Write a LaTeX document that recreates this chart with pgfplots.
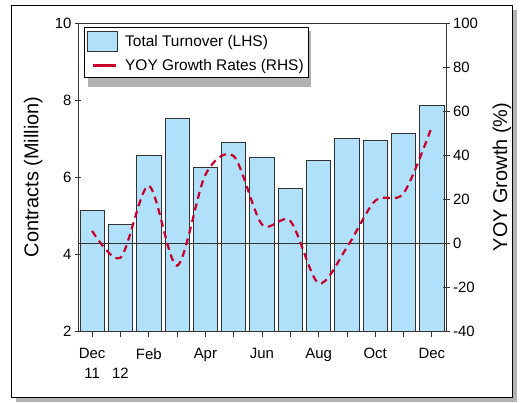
\documentclass[border=0pt]{standalone}
\usepackage{pgfplots}
\pgfplotsset{compat=1.18}
\usepackage{pgfplotstable}
\usepackage{fontspec}
\setmainfont{Liberation Sans}

\definecolor{barblue}{RGB}{176,224,250}
\definecolor{yoyred}{RGB}{200,0,46}

\pgfplotsset{
  barlegend/.style={legend image code/.code={\draw[##1] (0bp,-10bp) rectangle (30bp,10bp);}},
  linelegend/.style={legend image code/.code={\draw[##1] (5bp,0bp) -- (28bp,0bp);}},
}

% month index, turnover (million contracts), yoy growth (%)
\pgfplotstableread{
x turnover growth
0 5.12 5.5
1 4.76 -6.7
2 6.55 26.0
3 7.53 -10.3
4 6.26 31.0
5 6.91 39.5
6 6.52 8.4
7 5.71 10.0
8 6.44 -18.3
9 6.99 -2.0
10 6.94 19.2
11 7.12 22.6
12 7.87 52.9
}\datatable

\begin{document}
\begin{tikzpicture}
\useasboundingbox (0,0) rectangle (520bp,403bp);
\fill[black!30] (16bp,1bp) rectangle (517bp,393bp);
\draw[fill=white, line width=0.8bp] (11bp,6bp) rectangle (512bp,398bp);
% legend shadow
\fill[black!30] (88bp,316bp) rectangle (311bp,372bp);

\pgfplotsset{
  every axis/.append style={
    scale only axis, width=368bp, height=308bp,
    at={(78bp,72bp)}, anchor=south west,
    xmin=-0.5, xmax=12.5,
    axis line style={black!80, line width=0.9bp},
    major tick style={black!80, line width=0.8bp},
    tick label style={font=\fontsize{15}{20}\selectfont},
    label style={font=\fontsize{20}{24}\selectfont},
    /pgf/number format/assume math mode=true,
  },
}

\begin{axis}[
  ymin=2, ymax=10, ytick={2,4,...,10},
  xtick={0,...,12},
  xticklabels={Dec\\11, \vphantom{Dec}\\12, Feb, , Apr, , Jun, , Aug, , Oct, , Dec},
  xticklabel style={align=center, yshift=-8bp},
  xtick pos=lower, ytick pos=left,
  xtick align=outside, ytick align=center,
  major tick length=6bp,
  ylabel={Contracts (Million)},
  ylabel style={at={(axis description cs:-0.122,0.5)}, anchor=center},
  legend cell align=left,
  legend style={at={(0.0163,0.987)}, anchor=north west,
    draw=black, line width=0.8bp, fill=white,
    font=\fontsize{15.5}{18}\selectfont,
    inner xsep=3bp, inner ysep=4bp, row sep=5bp, column sep=5bp},
]
\addplot[ybar, bar width=0.86, fill=barblue, draw=black!80, line width=0.8bp, barlegend]
  table[x=x, y=turnover] {\datatable};
\addlegendentry{Total Turnover (LHS)}
\addlegendimage{yoyred, line width=2.5bp, linelegend}
\addlegendentry{YOY Growth Rates (RHS)}
\end{axis}

\begin{axis}[
  axis x line=none, axis y line*=right,
  ymin=-40, ymax=100, ytick={-40,-20,...,100},
  ytick align=center, major tick length=7bp,
  ylabel={YOY Growth (\%)},
  ylabel style={at={(axis description cs:1.152,0.5)}, anchor=center},
]
\draw[black!80, line width=0.8bp] (axis cs:-0.5,0) -- (axis cs:12.5,0);
\addplot[yoyred, line width=2.2bp, smooth, dash pattern=on 7bp off 5bp]
  table[x=x, y=growth] {\datatable};
\end{axis}
\end{tikzpicture}
\end{document}
